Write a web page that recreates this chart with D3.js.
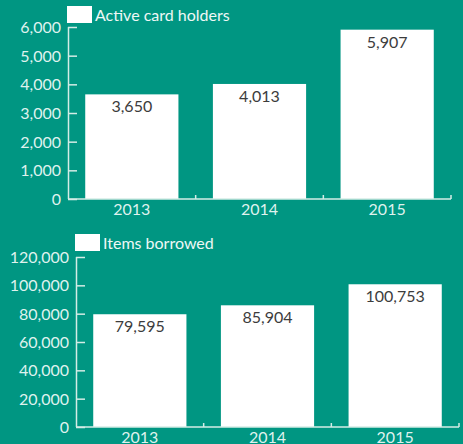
<!DOCTYPE html>
<html>
<head>
<script src="https://cdn.jsdelivr.net/npm/d3@7"></script>
<style>
body { margin: 0; background: #009682; }
svg { display: block; font-family: Lato, sans-serif; }
</style>
</head>
<body>
<svg id="chart" width="463" height="444"></svg>
<script>
var years = ['2013', '2014', '2015'];
var cardHolders = [3650, 4013, 5907];
var cardTicks = [0, 1000, 2000, 3000, 4000, 5000, 6000];
var itemsBorrowed = [79595, 85904, 100753];
var itemTicks = [0, 20000, 40000, 60000, 80000, 100000, 120000];

var svg = d3.select('#chart');
var fmt = d3.format(',');

// one panel: axis x0, top/bottom of y range, legend text and its top
function drawPanel(values, ticks, label, x0, yTop, yBottom, legendY) {
  var g = svg.append('g');
  var x = d3.scaleBand().domain(years).range([x0, x0 + 383])
    .paddingInner(0.27).paddingOuter(0.135);
  var y = d3.scaleLinear().domain([0, d3.max(ticks)]).range([yBottom, yTop]);

  // bars
  g.selectAll('rect.bar').data(values).enter().append('rect')
    .attr('class', 'bar')
    .attr('x', function(d, i) { return x(years[i]); })
    .attr('y', function(d) { return y(d); })
    .attr('width', x.bandwidth())
    .attr('height', function(d) { return yBottom - y(d); })
    .attr('fill', '#fff');

  g.selectAll('text.val').data(values).enter().append('text')
    .attr('class', 'val')
    .attr('x', function(d, i) { return x(years[i]) + x.bandwidth() / 2; })
    .attr('y', function(d) { return y(d) + 18; })
    .attr('text-anchor', 'middle')
    .attr('fill', '#3c3c3c')
    .style('font-size', '16px')
    .text(function(d) { return fmt(d); });

  // y axis
  var ya = g.append('g').attr('transform', 'translate(' + x0 + ',0)')
    .call(d3.axisRight(y).tickValues(ticks).tickSize(9).tickFormat(''));
  ya.selectAll('line, path').attr('stroke', '#d4ece6').attr('stroke-width', 1.5);
  ya.select('.domain').attr('d', 'M0.5,' + yTop + 'V' + yBottom);
  g.selectAll('text.tick').data(ticks).enter().append('text')
    .attr('class', 'tick')
    .attr('x', x0 - 7)
    .attr('y', function(d) { return y(d) + 6; })
    .attr('text-anchor', 'end')
    .attr('fill', '#dff2ee')
    .style('font-size', '16px')
    .text(function(d) { return fmt(d); });

  // x axis, ticks on band edges pointing up
  var edges = [x0 + 383 / 3, x0 + 2 * 383 / 3, x0 + 383];
  g.append('line').attr('x1', x0).attr('x2', x0 + 383)
    .attr('y1', yBottom).attr('y2', yBottom)
    .attr('stroke', '#d4ece6').attr('stroke-width', 1.5);
  g.selectAll('line.xt').data(edges).enter().append('line')
    .attr('class', 'xt')
    .attr('x1', function(d) { return d; }).attr('x2', function(d) { return d; })
    .attr('y1', yBottom).attr('y2', yBottom - 4)
    .attr('stroke', '#d4ece6').attr('stroke-width', 1.5);
  g.selectAll('text.yr').data(years).enter().append('text')
    .attr('class', 'yr')
    .attr('x', function(d) { return x(d) + x.bandwidth() / 2; })
    .attr('y', yBottom + 16)
    .attr('text-anchor', 'middle')
    .attr('fill', '#dff2ee')
    .style('font-size', '16px')
    .text(function(d) { return d; });

  // legend
  g.append('rect').attr('x', x0 - 1).attr('y', legendY)
    .attr('width', 25).attr('height', 17).attr('fill', '#fff');
  g.append('text').attr('x', x0 + 27).attr('y', legendY + 15)
    .attr('fill', '#eef8f6').style('font-size', '16px').text(label);
}

drawPanel(cardHolders, cardTicks, 'Active card holders', 68, 27, 199, 6);
drawPanel(itemsBorrowed, itemTicks, 'Items borrowed', 76, 257, 427, 234);
</script>
</body>
</html>
